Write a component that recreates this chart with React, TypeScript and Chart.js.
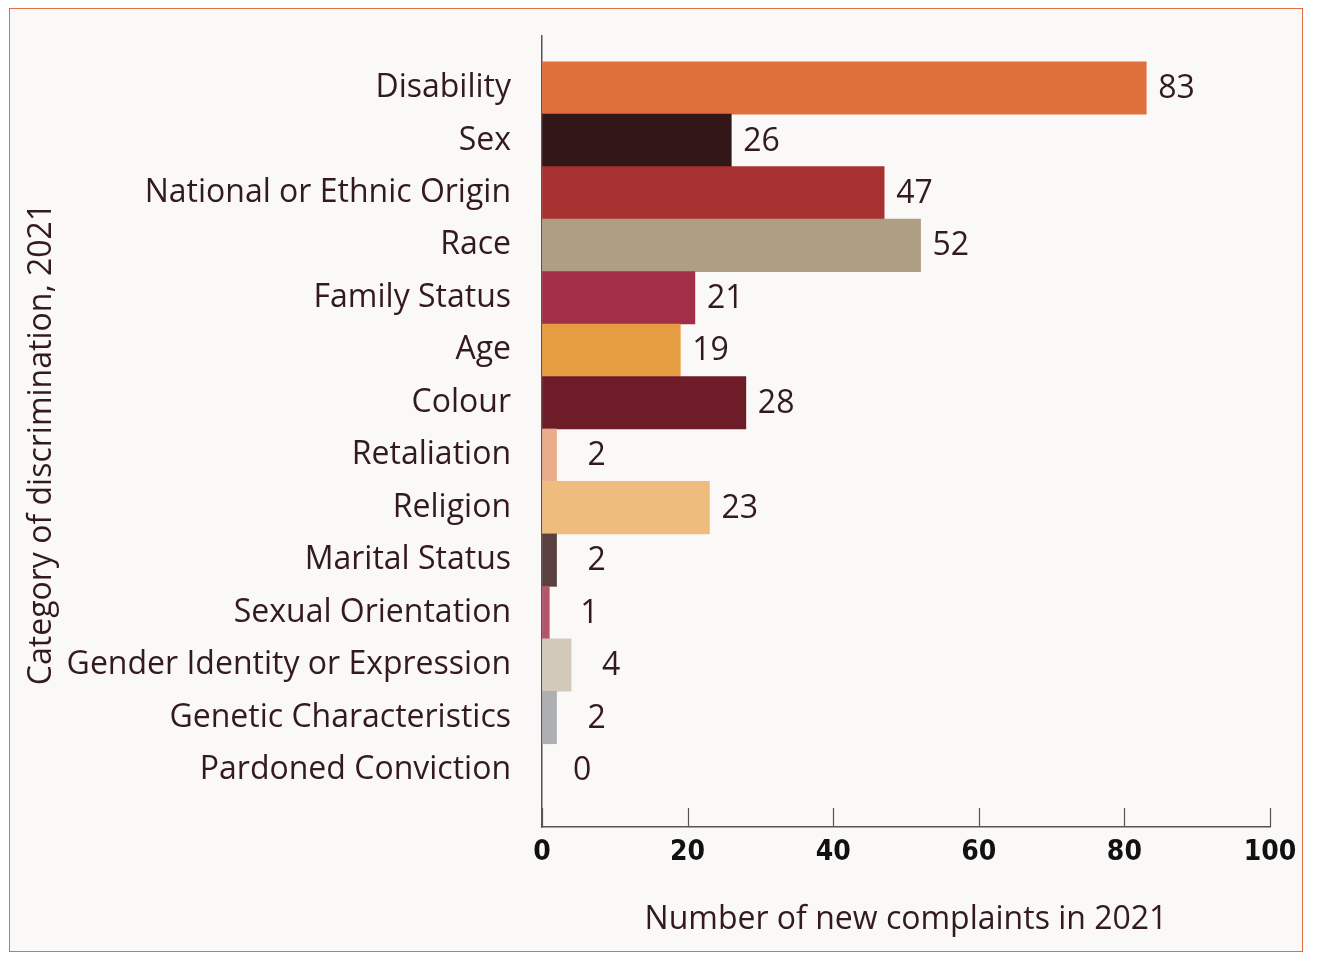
import React, { useEffect, useRef } from "react";
import { Chart, registerables } from "chart.js";

Chart.register(...registerables);

const categories = [
  "Disability",
  "Sex",
  "National or Ethnic Origin",
  "Race",
  "Family Status",
  "Age",
  "Colour",
  "Retaliation",
  "Religion",
  "Marital Status",
  "Sexual Orientation",
  "Gender Identity or Expression",
  "Genetic Characteristics",
  "Pardoned Conviction",
];

const complaints = [83, 26, 47, 52, 21, 19, 28, 2, 23, 2, 1, 4, 2, 0];

const barColors = [
  "#df6f3b",
  "#321618",
  "#a83131",
  "#ae9f84",
  "#a22e47",
  "#e69c40",
  "#6d1c28",
  "#e9ad8c",
  "#eebd7d",
  "#5a4140",
  "#b3566c",
  "#d3c9bb",
  "#adafb3",
  "#9a9a9a",
];

const xTickValues = [0, 20, 40, 60, 80, 100];

const yTitle = "Category of discrimination, 2021";
const xTitle = "Number of new complaints in 2021";

const TEXT = "#331a1c";
const LABEL_FONT = "'Open Sans', Lato, sans-serif";
const FONT_SIZE = 32;

const valueLabels = {
  id: "valueLabels",
  afterDatasetsDraw(chart: any) {
    const { ctx } = chart;
    const meta = chart.getDatasetMeta(0);
    ctx.save();
    ctx.font = `500 32px ${LABEL_FONT}`;
    ctx.fillStyle = TEXT;
    ctx.textAlign = "left";
    ctx.textBaseline = "middle";
    meta.data.forEach((bar: any, i: number) => {
      const v = complaints[i];
      const off = v <= 4 ? 31 : 12;
      ctx.fillText(String(v), bar.x + off, bar.y + 1);
    });
    ctx.restore();
  },
};

const axisDecor = {
  id: "axisDecor",
  afterDraw(chart: any) {
    const { ctx, chartArea } = chart;
    const xs = chart.scales.x;
    ctx.save();
    ctx.strokeStyle = "#555555";
    ctx.lineWidth = 1.2;
    xTickValues.forEach((v) => {
      const px = Math.round(xs.getPixelForValue(v)) + 0.5;
      ctx.beginPath();
      ctx.moveTo(px, chartArea.bottom - 19);
      ctx.lineTo(px, chartArea.bottom);
      ctx.stroke();
    });
    // rotated y-axis title
    ctx.translate(42, 444);
    ctx.rotate(-Math.PI / 2);
    ctx.font = `500 ${FONT_SIZE}px ${LABEL_FONT}`;
    ctx.fillStyle = TEXT;
    ctx.textAlign = "center";
    ctx.textBaseline = "middle";
    ctx.fillText(yTitle, 0, 0);
    ctx.restore();
  },
};

export default function App() {
  const ref = useRef<HTMLCanvasElement>(null);

  useEffect(() => {
    if (!ref.current) return;
    const chart = new Chart(ref.current, {
      type: "bar",
      data: {
        datasets: [
          {
            data: complaints.map((v, i) => ({ x: v, y: i })),
            backgroundColor: barColors,
            borderWidth: 0,
            barPercentage: 1,
            categoryPercentage: 1,
          },
        ],
      },
      options: {
        indexAxis: "y",
        animation: false,
        responsive: false,
        maintainAspectRatio: false,
        devicePixelRatio: 1,
        layout: { padding: { left: 0, right: 48, top: 36, bottom: 0 } },
        plugins: {
          legend: { display: false },
          tooltip: { enabled: false },
        },
        scales: {
          y: {
            type: "linear",
            reverse: true,
            offset: false,
            min: -0.99,
            max: 14.087,
            afterBuildTicks: (scale: any) => {
              scale.ticks = categories.map((_, i) => ({ value: i }));
            },
            afterFit: (scale: any) => {
              scale.width = 542;
              scale.paddingTop = 0;
              scale.paddingBottom = 0;
            },
            ticks: {
              callback: (v: any) => categories[v as number] ?? "",
              color: TEXT,
              font: { family: LABEL_FONT, size: FONT_SIZE, weight: "500" },
              padding: 31,
              autoSkip: false,
            },
            grid: { display: false, drawTicks: false },
            border: { display: true, color: "#555555", width: 1.5 },
            title: { display: false },
          },
          x: {
            type: "linear",
            min: 0,
            max: 100,
            afterBuildTicks: (scale: any) => {
              scale.ticks = xTickValues.map((v) => ({ value: v }));
            },
            afterFit: (scale: any) => {
              scale.height = 143;
            },
            ticks: {
              color: "#111111",
              font: {
                family: "'DejaVu Sans Condensed', 'DejaVu Sans', sans-serif",
                size: 28,
                weight: "bold",
              },
              padding: 9,
            },
            grid: { display: true, drawOnChartArea: false, drawTicks: false },
            border: { display: true, color: "#555555", width: 1.5 },
            title: {
              display: true,
              text: xTitle,
              color: TEXT,
              font: { family: LABEL_FONT, size: FONT_SIZE, weight: "500" },
              padding: { top: 0, bottom: 31 },
            },
          },
        },
      },
      plugins: [valueLabels, axisDecor],
    } as any);
    return () => chart.destroy();
  }, []);

  return (
    <div
      style={{
        position: "fixed",
        left: 0,
        top: 0,
        width: 1318,
        height: 970,
        background: "#ffffff",
      }}
    >
      <div
        style={{
          position: "absolute",
          left: 9,
          top: 8,
          width: 1294,
          height: 944,
          boxSizing: "border-box",
          border: "1.5px solid #e07040",
          background: "#faf9f7",
        }}
      />
      <canvas
        ref={ref}
        width={1318}
        height={970}
        style={{ position: "absolute", left: 0, top: 0, width: 1318, height: 970 }}
      />
    </div>
  );
}
